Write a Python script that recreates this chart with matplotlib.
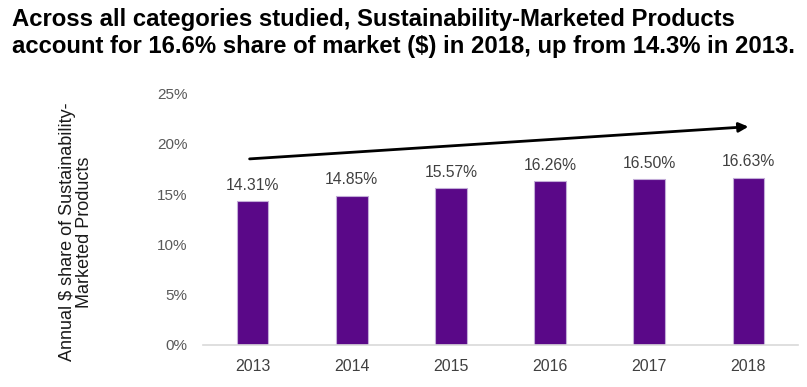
import matplotlib
matplotlib.use("Agg")
import matplotlib.pyplot as plt

years = ["2013", "2014", "2015", "2016", "2017", "2018"]
share = [14.31, 14.85, 15.57, 16.26, 16.50, 16.63]
share_labels = ["14.31%", "14.85%", "15.57%", "16.26%", "16.50%", "16.63%"]
yticks = [0, 5, 10, 15, 20, 25]

plt.rcParams["font.family"] = ["Liberation Sans", "DejaVu Sans"]

fig = plt.figure(figsize=(8.07, 3.87), dpi=100)
ax = fig.add_axes([203 / 807, 42 / 387, 595 / 807, 251.5 / 387])

x = list(range(len(years)))
ax.bar(x, share, width=0.32, color="#5a0888", edgecolor="#c3acd8", linewidth=0.8)

for xi, v, lab in zip(x, share, share_labels):
    ax.annotate(lab, (xi, v), xytext=(0, 6), textcoords="offset points",
                ha="center", va="bottom", fontsize=11.3, color="#404040")

# trend arrow
ax.annotate("", xy=(5.0, 21.7), xytext=(-0.03, 18.5),
            arrowprops=dict(arrowstyle="-|>", color="black", lw=2,
                            mutation_scale=14, shrinkA=0, shrinkB=0))

ax.set_xlim(-0.5, 5.5)
ax.set_ylim(0, 25)
ax.set_xticks(x)
ax.set_xticklabels(years, fontsize=11.5, color="#404040")
ax.set_yticks(yticks)
ax.set_yticklabels([f"{t}%" for t in yticks], fontsize=11, color="#595959")
ax.tick_params(axis="both", length=0)
ax.tick_params(axis="y", pad=11)
ax.tick_params(axis="x", pad=10)
for s in ["top", "right", "left"]:
    ax.spines[s].set_visible(False)
ax.spines["bottom"].set_color("#d9d9d9")
ax.spines["bottom"].set_linewidth(1.2)

fig.text(76 / 807, 1 - 232 / 387, "Annual $ share of Sustainability-\nMarketed Products",
         rotation=90, ha="center", va="center", fontsize=13, color="#1a1a1a",
         linespacing=1.0)

fig.text(12 / 807, 1 - 8 / 387,
         "Across all categories studied, Sustainability-Marketed Products\n"
         "account for 16.6% share of market ($) in 2018, up from 14.3% in 2013.",
         ha="left", va="top", fontsize=17.2, fontweight="bold", color="black",
         linespacing=1.25)

fig.savefig("out.png", dpi=100)
